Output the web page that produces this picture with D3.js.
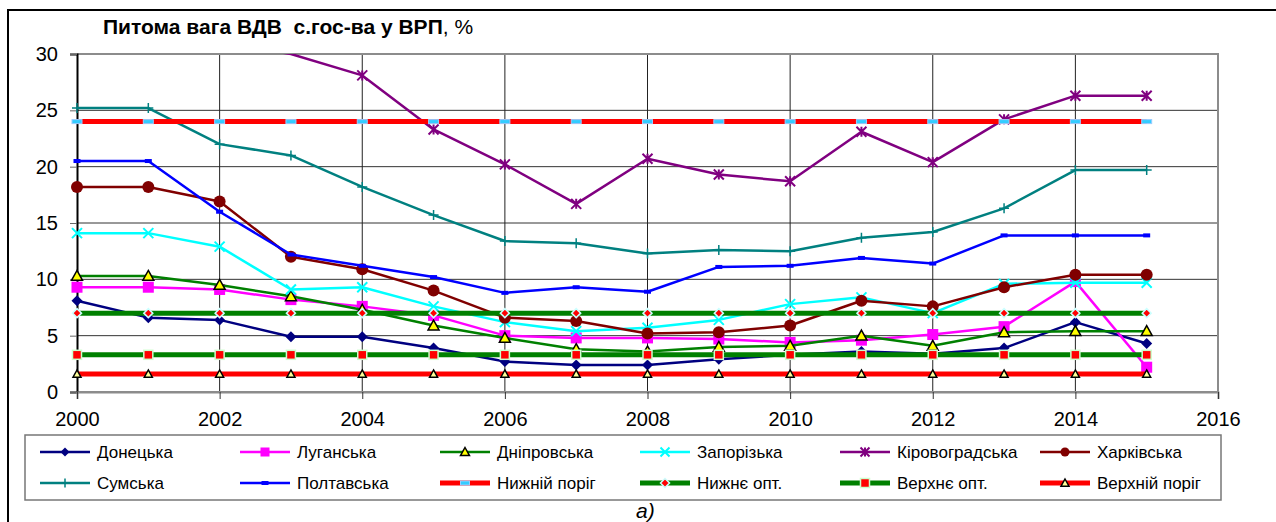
<!DOCTYPE html>
<html>
<head>
<meta charset="utf-8">
<script src="https://cdn.jsdelivr.net/npm/d3@7"></script>
<style>
  body { margin: 0; background: #fff; }
  text { font-family: Arial, "Liberation Sans", sans-serif; }
</style>
</head>
<body>
<div id="chart"></div>
<script>
// Years on the x axis
const years = [2000, 2001, 2002, 2003, 2004, 2005, 2006, 2007, 2008, 2009, 2010, 2011, 2012, 2013, 2014, 2015];

// Share of agriculture GVA in GRP, %
const donetska      = [8.1, 6.6, 6.4, 4.9, 4.9, 3.9, 2.7, 2.4, 2.4, 2.9, 3.3, 3.6, 3.4, 3.9, 6.2, 4.3];
const luhanska      = [9.3, 9.3, 9.1, 8.2, 7.6, 6.8, 5.0, 4.8, 4.8, 4.7, 4.4, 4.6, 5.1, 5.8, 9.8, 2.2];
const dniprovska    = [10.3, 10.3, 9.5, 8.5, 7.3, 5.9, 4.8, 3.8, 3.6, 4.0, 4.1, 5.0, 4.1, 5.3, 5.4, 5.4];
const zaporizka     = [14.1, 14.1, 12.9, 9.1, 9.3, 7.6, 6.2, 5.4, 5.7, 6.4, 7.8, 8.4, 7.0, 9.6, 9.7, 9.7];
const kirovohradska = [33.0, 32.0, 31.0, 30.0, 28.1, 23.3, 20.2, 16.7, 20.7, 19.3, 18.7, 23.1, 20.4, 24.2, 26.3, 26.3];
const kharkivska    = [18.2, 18.2, 16.9, 12.0, 10.9, 9.0, 6.6, 6.3, 5.2, 5.3, 5.9, 8.1, 7.6, 9.3, 10.4, 10.4];
const sumska        = [25.2, 25.2, 22.0, 21.0, 18.2, 15.7, 13.4, 13.2, 12.3, 12.6, 12.5, 13.7, 14.2, 16.3, 19.7, 19.7];
const poltavska     = [20.5, 20.5, 16.0, 12.2, 11.2, 10.2, 8.8, 9.3, 8.9, 11.1, 11.2, 11.9, 11.4, 13.9, 13.9, 13.9];
const lowerLimit    = [24, 24, 24, 24, 24, 24, 24, 24, 24, 24, 24, 24, 24, 24, 24, 24];
const lowerOpt      = [7, 7, 7, 7, 7, 7, 7, 7, 7, 7, 7, 7, 7, 7, 7, 7];
const upperOpt      = [3.3, 3.3, 3.3, 3.3, 3.3, 3.3, 3.3, 3.3, 3.3, 3.3, 3.3, 3.3, 3.3, 3.3, 3.3, 3.3];
const upperLimit    = [1.6, 1.6, 1.6, 1.6, 1.6, 1.6, 1.6, 1.6, 1.6, 1.6, 1.6, 1.6, 1.6, 1.6, 1.6, 1.6];

// Series names, in legend order
const seriesNames = ['Донецька', 'Луганська', 'Дніпровська', 'Запорізька', 'Кіровоградська', 'Харківська',
                     'Сумська', 'Полтавська', 'Нижній поріг', 'Нижнє опт.', 'Верхнє опт.', 'Верхній поріг'];
const seriesValues = [donetska, luhanska, dniprovska, zaporizka, kirovohradska, kharkivska,
                      sumska, poltavska, lowerLimit, lowerOpt, upperOpt, upperLimit];

// Axis ticks
const yTicks = [0, 5, 10, 15, 20, 25, 30];
const xTicks = [2000, 2002, 2004, 2006, 2008, 2010, 2012, 2014, 2016];

// Look of each series (line + marker)
const styles = [
    {color: '#000080', width: 2.5, marker: 'diamond', size: 11, fill: '#000080', stroke: 'none'},
    {color: '#FF00FF', width: 2.5, marker: 'square', size: 11, fill: '#FF00FF', stroke: 'none'},
    {color: '#008000', width: 2.5, marker: 'triangle', size: 11, fill: '#FFFF00', stroke: '#000'},
    {color: '#00FFFF', width: 2.5, marker: 'x', size: 10, fill: 'none', stroke: '#00FFFF'},
    {color: '#800080', width: 2.5, marker: 'star', size: 10, fill: 'none', stroke: '#800080'},
    {color: '#800000', width: 2.5, marker: 'circle', size: 12, fill: '#800000', stroke: 'none'},
    {color: '#008080', width: 2.5, marker: 'plus', size: 10, fill: 'none', stroke: '#008080'},
    {color: '#0000FF', width: 2.5, marker: 'dash', size: 7, fill: '#0000FF', stroke: 'none'},
    {color: '#FF0000', width: 5, marker: 'dash', size: 10, fill: '#33CCFF', stroke: '#99CCFF'},
    {color: '#008000', width: 5, marker: 'diamond', size: 9, fill: '#FF0000', stroke: '#CCFFFF'},
    {color: '#008000', width: 5, marker: 'square', size: 9, fill: '#FF0000', stroke: '#CCFFCC'},
    {color: '#FF0000', width: 5, marker: 'triangle', size: 8, fill: '#FFFF99', stroke: '#000'},
];

class LineChart {
    constructor(_config) {
        this.config = {
            parentElement: _config.parentElement,
            containerWidth: 1276,
            containerHeight: 522,
            plot: {left: 77, right: 1218, top: 54, bottom: 392},
            legend: {left: 25, top: 435, width: 1196, height: 65, colWidth: 200, rowHeight: 31},
        };
        this.initVis();
    }

    initVis() {
        let vis = this;
        const p = vis.config.plot;

        vis.svg = d3.select(vis.config.parentElement).append('svg')
            .attr('width', vis.config.containerWidth)
            .attr('height', vis.config.containerHeight);

        // Outer chart frame (runs off the right and bottom of the picture)
        vis.svg.append('path')
            .attr('d', `M8,${vis.config.containerHeight + 5} V10 H${vis.config.containerWidth + 5}`)
            .attr('fill', 'none')
            .attr('stroke', '#000')
            .attr('stroke-width', 2);

        vis.x = d3.scaleLinear().domain([2000, 2016]).range([p.left, p.right]);
        vis.y = d3.scaleLinear().domain([0, 30]).range([p.bottom, p.top]);

        // Clip only at the top of the plot (values above 30 are cut off)
        vis.svg.append('defs').append('clipPath').attr('id', 'plot-clip')
            .append('rect')
            .attr('x', p.left - 20).attr('y', p.top)
            .attr('width', p.right - p.left + 40).attr('height', p.bottom - p.top + 20);

        // Gridlines
        vis.svg.append('g').selectAll('line.hgrid')
            .data(yTicks.filter(d => d > 0 && d < 30))
            .join('line')
            .attr('x1', p.left).attr('x2', p.right)
            .attr('y1', d => vis.y(d)).attr('y2', d => vis.y(d))
            .attr('stroke', '#333').attr('stroke-width', 1);
        vis.svg.append('g').selectAll('line.vgrid')
            .data(xTicks.filter(d => d > 2000 && d < 2016))
            .join('line')
            .attr('x1', d => vis.x(d)).attr('x2', d => vis.x(d))
            .attr('y1', p.top).attr('y2', p.bottom)
            .attr('stroke', '#222').attr('stroke-width', 1);

        // Plot border: grey top / right / bottom
        vis.svg.append('path')
            .attr('d', `M${p.left},${p.top} H${p.right} V${p.bottom} H${p.left}`)
            .attr('fill', 'none')
            .attr('stroke', '#8c8c8c')
            .attr('stroke-width', 2);

        // Axes
        const yAxis = d3.axisLeft(vis.y).tickValues(yTicks).tickSize(7).tickPadding(12);
        const xAxis = d3.axisBottom(vis.x).tickValues(xTicks).tickSize(7).tickPadding(13).tickFormat(d3.format('d'));
        vis.svg.append('g')
            .attr('transform', `translate(${p.left},0)`)
            .call(yAxis)
            .call(g => g.select('.domain').attr('stroke', '#000').attr('stroke-width', 2))
            .call(g => g.selectAll('.tick line').attr('stroke', '#666'))
            .call(g => g.selectAll('.tick text').attr('font-size', 20).attr('fill', '#000')
                .attr('font-family', 'Arial, "Liberation Sans", sans-serif'));
        vis.svg.append('g')
            .attr('transform', `translate(0,${p.bottom})`)
            .call(xAxis)
            .call(g => g.select('.domain').attr('stroke', '#8c8c8c').attr('stroke-width', 2))
            .call(g => g.selectAll('.tick line').attr('stroke', '#333'))
            .call(g => g.selectAll('.tick text').attr('font-size', 20).attr('fill', '#000')
                .attr('font-family', 'Arial, "Liberation Sans", sans-serif'));

        // Title
        const title = vis.svg.append('text')
            .attr('x', 103).attr('y', 34)
            .attr('font-size', 21)
            .style('white-space', 'pre');
        title.append('tspan').attr('font-weight', 'bold').text('Питома вага ВДВ  с.гос-ва у ВРП');
        title.append('tspan').text(', %');

        vis.plotArea = vis.svg.append('g').attr('clip-path', 'url(#plot-clip)');
        vis.legend = vis.svg.append('g');

        // Caption under the chart
        vis.svg.append('text')
            .attr('x', 636).attr('y', 518)
            .attr('font-family', '"Liberation Serif", "Times New Roman", serif')
            .attr('font-style', 'italic')
            .attr('font-size', 21)
            .text('а)');

        vis.renderVis();
    }

    // Draw one marker of a given style at the origin of group g
    drawMarker(g, s) {
        const h = s.size / 2;
        if (s.marker === 'diamond') {
            g.append('path').attr('d', `M0,${-h} L${h},0 L0,${h} L${-h},0 Z`)
                .attr('fill', s.fill).attr('stroke', s.stroke).attr('stroke-width', 1.5);
        } else if (s.marker === 'square') {
            g.append('rect').attr('x', -h).attr('y', -h).attr('width', s.size).attr('height', s.size)
                .attr('fill', s.fill).attr('stroke', s.stroke).attr('stroke-width', 1.5);
        } else if (s.marker === 'triangle') {
            g.append('path').attr('d', `M0,${-h} L${h},${h * 0.8} L${-h},${h * 0.8} Z`)
                .attr('fill', s.fill).attr('stroke', s.stroke).attr('stroke-width', 1.5);
        } else if (s.marker === 'circle') {
            g.append('circle').attr('r', h).attr('fill', s.fill);
        } else if (s.marker === 'x') {
            g.append('path').attr('d', `M${-h},${-h} L${h},${h} M${-h},${h} L${h},${-h}`)
                .attr('stroke', s.stroke).attr('stroke-width', 2);
        } else if (s.marker === 'star') {
            g.append('path').attr('d', `M${-h},${-h} L${h},${h} M${-h},${h} L${h},${-h} M0,${-h} V${h}`)
                .attr('stroke', s.stroke).attr('stroke-width', 2);
        } else if (s.marker === 'plus') {
            g.append('path').attr('d', `M${-h},0 H${h} M0,${-h} V${h}`)
                .attr('stroke', s.stroke).attr('stroke-width', 1.5);
        } else if (s.marker === 'dash') {
            g.append('rect').attr('x', -h).attr('y', -2).attr('width', s.size).attr('height', 4)
                .attr('fill', s.fill).attr('stroke', s.stroke).attr('stroke-width', s.stroke === 'none' ? 0 : 1);
        }
    }

    renderVis() {
        let vis = this;
        const line = d3.line().x((d, i) => vis.x(years[i])).y(d => vis.y(d));

        seriesValues.forEach((values, k) => {
            const s = styles[k];
            vis.plotArea.append('path')
                .datum(values)
                .attr('d', line)
                .attr('fill', 'none')
                .attr('stroke', s.color)
                .attr('stroke-width', s.width)
                .attr('stroke-linejoin', 'round');
            values.forEach((v, i) => {
                // markers outside the value range are hidden, as in the source chart
                if (v >= 30) return;
                const g = vis.plotArea.append('g')
                    .attr('transform', `translate(${vis.x(years[i])},${vis.y(v)})`);
                vis.drawMarker(g, s);
            });
        });

        // Legend
        const L = vis.config.legend;
        vis.legend.append('rect')
            .attr('x', L.left).attr('y', L.top)
            .attr('width', L.width).attr('height', L.height)
            .attr('fill', '#fff').attr('stroke', '#777').attr('stroke-width', 1.5);
        seriesNames.forEach((name, k) => {
            const s = styles[k];
            const col = k % 6, row = Math.floor(k / 6);
            const x0 = L.left + 15 + col * L.colWidth;
            const cy = L.top + 17 + row * L.rowHeight;
            vis.legend.append('line')
                .attr('x1', x0).attr('x2', x0 + 50)
                .attr('y1', cy).attr('y2', cy)
                .attr('stroke', s.color).attr('stroke-width', s.width);
            const g = vis.legend.append('g').attr('transform', `translate(${x0 + 25},${cy})`);
            vis.drawMarker(g, Object.assign({}, s, {size: Math.min(s.size, 9)}));
            vis.legend.append('text')
                .attr('x', x0 + 57).attr('y', cy + 6)
                .attr('font-size', 17)
                .text(name);
        });
    }
}

new LineChart({parentElement: '#chart'});
</script>
</body>
</html>
